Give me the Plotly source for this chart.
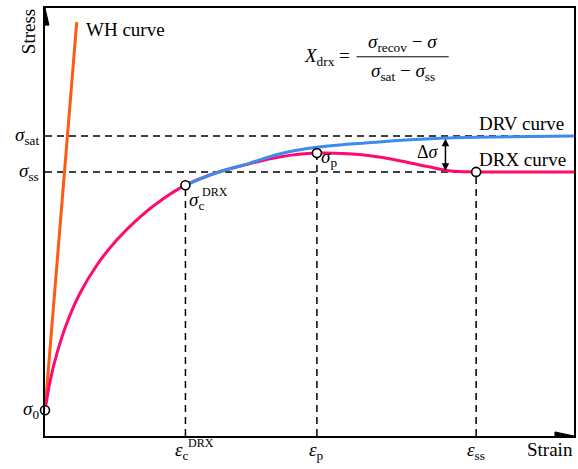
import plotly.graph_objects as go

# ---- data (arbitrary strain / stress units) ----
strain_wh = [0.0, 0.60]
stress_wh = [0.60, 9.67]

strain_drx = [0.0, 0.094, 0.226, 0.414, 0.659, 0.979, 1.356, 1.789, 2.222, 2.655,
              3.24, 3.86, 4.43, 5.14, 5.99, 6.63, 7.25, 7.68, 8.15, 10.0]
stress_drx = [0.60, 1.27, 1.93, 2.64, 3.33, 3.99, 4.58, 5.11, 5.53, 5.86,
              6.15, 6.36, 6.52, 6.61, 6.57, 6.45, 6.29, 6.19, 6.17, 6.17]

strain_drv = [2.655, 3.24, 3.86, 4.43, 5.18, 6.31, 7.57, 8.81, 10.0]
stress_drv = [5.86, 6.15, 6.37, 6.59, 6.75, 6.87, 6.96, 6.99, 7.01]

eps_c, eps_p, eps_ss = 2.655, 5.14, 8.15
sig_0, sig_c, sig_p, sig_ss, sig_sat = 0.60, 5.86, 6.61, 6.17, 7.01

delta_x, delta_top, delta_bottom = 7.57, 6.98, 6.20

x_tick_vals = [eps_c, eps_p, eps_ss]
x_tick_text = ["<i>ε</i><sub>c</sub>", "<i>ε</i><sub>p</sub>", "<i>ε</i><sub>ss</sub>"]
y_tick_vals = [sig_sat, sig_ss, sig_0]
y_tick_text = ["<i>σ</i><sub>sat</sub>", "<i>σ</i><sub>ss</sub>", "<i>σ</i><sub>0</sub>"]

ORANGE = "#FF5A14"
PINK = "#FF0A6E"
BLUE = "#3C8CF0"
FONT = "Liberation Serif"

fig = go.Figure()

fig.add_trace(go.Scatter(x=strain_wh, y=stress_wh, mode="lines",
                         line=dict(color=ORANGE, width=3), hoverinfo="skip"))
fig.add_trace(go.Scatter(x=strain_drx, y=stress_drx, mode="lines",
                         line=dict(color=PINK, width=3, shape="spline", smoothing=1.0),
                         hoverinfo="skip"))
fig.add_trace(go.Scatter(x=strain_drv, y=stress_drv, mode="lines",
                         line=dict(color=BLUE, width=3, shape="spline", smoothing=1.0),
                         hoverinfo="skip"))
fig.add_trace(go.Scatter(x=[0.0, eps_c, eps_p, eps_ss], y=[sig_0, sig_c, sig_p, sig_ss],
                         mode="markers", cliponaxis=False,
                         marker=dict(symbol="circle", size=9, color="white",
                                     line=dict(color="black", width=1.6)),
                         hoverinfo="skip"))

dash = dict(color="black", width=1.5, dash="7px,5px")
shapes = [
    dict(type="line", xref="x", yref="y", x0=0, x1=10, y0=sig_sat, y1=sig_sat, line=dash, layer="below"),
    dict(type="line", xref="x", yref="y", x0=0, x1=eps_ss, y0=sig_ss, y1=sig_ss, line=dash, layer="below"),
    dict(type="line", xref="x", yref="y", x0=eps_c, x1=eps_c, y0=0, y1=sig_c, line=dash, layer="below"),
    dict(type="line", xref="x", yref="y", x0=eps_p, x1=eps_p, y0=0, y1=sig_p, line=dash, layer="below"),
    dict(type="line", xref="x", yref="y", x0=eps_ss, x1=eps_ss, y0=0, y1=sig_ss, line=dash, layer="below"),
    # axis arrow heads
    dict(type="path", xref="x", yref="y", path="M 0 10 L -0.075 9.60 L 0.075 9.60 Z",
         fillcolor="black", line=dict(color="black", width=1)),
    dict(type="path", xref="x", yref="y", path="M 10 0 L 9.64 0.095 L 9.64 -0.095 Z",
         fillcolor="black", line=dict(color="black", width=1)),
    # fraction bar
    dict(type="line", xref="x", yref="y", x0=5.89, x1=7.63, y0=8.86, y1=8.86,
         line=dict(color="black", width=1)),
]

ann = []
f19 = dict(family=FONT, size=19, color="black")
f18 = dict(family=FONT, size=18, color="black")
f12 = dict(family=FONT, size=12, color="black")

for v, t in zip(y_tick_vals, y_tick_text):
    ann.append(dict(x=0, y=v, xref="x", yref="y", text=t, showarrow=False,
                    xanchor="right", yanchor="middle", xshift=-4, font=f19))
for v, t in zip(x_tick_vals, x_tick_text):
    xa = "right" if v == eps_c else "center"
    xs = 6 if v == eps_c else 0
    ann.append(dict(x=v, y=0, xref="x", yref="y", text=t, showarrow=False,
                    xanchor=xa, yanchor="top", xshift=xs, yshift=-1, font=f19))
ann.append(dict(x=eps_c, y=0, xref="x", yref="y", text="DRX", showarrow=False,
                xanchor="left", yanchor="middle", xshift=1, yshift=-7, font=f12))

# point labels
ann.append(dict(x=eps_c, y=sig_c, xref="x", yref="y", text="<i>σ</i><sub>c</sub>",
                showarrow=False, xanchor="left", yanchor="middle", xshift=2, yshift=-16, font=f19))
ann.append(dict(x=eps_c, y=sig_c, xref="x", yref="y", text="DRX",
                showarrow=False, xanchor="left", yanchor="middle", xshift=15, yshift=-7, font=f12))
ann.append(dict(x=eps_p, y=sig_p, xref="x", yref="y", text="<i>σ</i><sub>p</sub>",
                showarrow=False, xanchor="left", yanchor="middle", xshift=2, yshift=-5, font=f19))
ann.append(dict(x=delta_x, y=(delta_top + delta_bottom) / 2, xref="x", yref="y",
                text="Δ<i>σ</i>", showarrow=False, xanchor="right", yanchor="middle",
                xshift=-4, yshift=2, font=f18))
ann.append(dict(x=delta_x, y=delta_bottom, ax=delta_x, ay=delta_top, xref="x", yref="y",
                axref="x", ayref="y", text="", showarrow=True, arrowhead=2, startarrowhead=2,
                arrowside="end+start", arrowsize=1, arrowwidth=1.5, arrowcolor="black",
                standoff=0, startstandoff=0))

# curve labels
ann.append(dict(x=strain_wh[1], y=stress_wh[1], xref="x", yref="y", text="WH curve",
                showarrow=False, xanchor="left", yanchor="middle", xshift=7, yshift=-7, font=f19))
ann.append(dict(x=eps_ss, y=sig_sat, xref="x", yref="y", text="DRV curve",
                showarrow=False, xanchor="left", yanchor="middle", xshift=1, yshift=12, font=f19))
ann.append(dict(x=eps_ss, y=sig_ss, xref="x", yref="y", text="DRX curve",
                showarrow=False, xanchor="left", yanchor="middle", xshift=1, yshift=12, font=f19))

# axis titles
ann.append(dict(x=-0.031, y=0.945, xref="paper", yref="paper", text="Stress", textangle=-90,
                showarrow=False, xanchor="center", yanchor="middle", font=f19))
ann.append(dict(x=0.955, y=-0.031, xref="paper", yref="paper", text="Strain",
                showarrow=False, xanchor="center", yanchor="middle", font=f19))

# formula
ann.append(dict(x=5.80, y=8.86, xref="x", yref="y", text="<i>X</i><sub>drx</sub> =",
                showarrow=False, xanchor="right", yanchor="middle", font=f19))
ann.append(dict(x=6.76, y=9.18, xref="x", yref="y", text="<i>σ</i><sub>recov</sub> − <i>σ</i>",
                showarrow=False, xanchor="center", yanchor="middle", font=f19))
ann.append(dict(x=6.76, y=8.50, xref="x", yref="y", text="<i>σ</i><sub>sat</sub> − <i>σ</i><sub>ss</sub>",
                showarrow=False, xanchor="center", yanchor="middle", font=f19))

axis_common = dict(range=[0, 10], showgrid=False, zeroline=False, showticklabels=False,
                   ticks="", showline=True, mirror=True, linecolor="black", linewidth=1.5)

fig.update_layout(
    width=578, height=469,
    margin=dict(l=45, r=2, t=8, b=33),
    paper_bgcolor="white", plot_bgcolor="white",
    showlegend=False,
    xaxis=axis_common, yaxis=axis_common,
    shapes=shapes, annotations=ann,
)

fig.write_html("out.html", config={"displayModeBar": False},
               post_script="document.body.style.margin='0px';document.body.style.padding='0px';")
